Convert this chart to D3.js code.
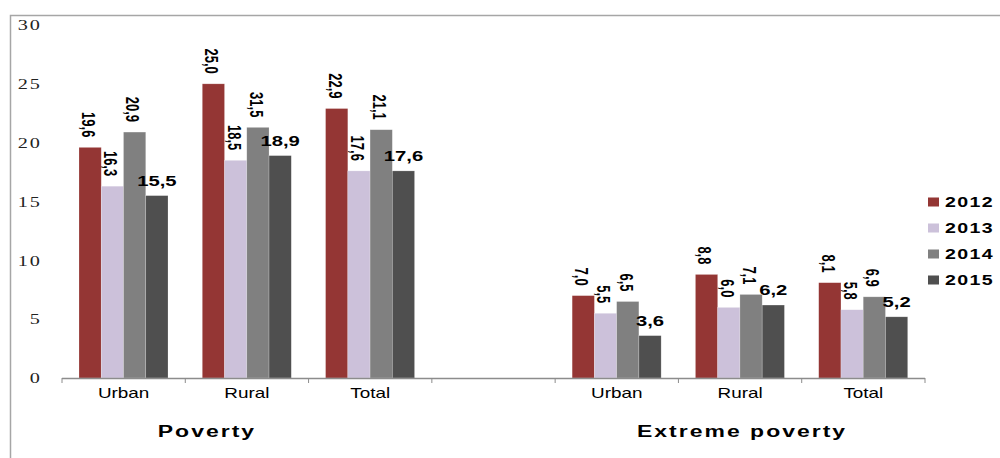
<!DOCTYPE html>
<html><head><meta charset="utf-8">
<script src="https://cdn.jsdelivr.net/npm/d3@7"></script>
<style>html,body{margin:0;padding:0;background:#fff;}svg{display:block;}</style>
</head><body>
<svg id="chart" width="1000" height="458"></svg>
<script>
// ---- data ----
const slots = ["Urban|P","Rural|P","Total|P","gap","Urban|E","Rural|E","Total|E"];
const slotLabels = ["Urban","Rural","Total","","Urban","Rural","Total"];
const years = ["2012","2013","2014","2015"];
const colors = ["#943634","#CCC1DA","#808080","#4F4F4F"];
const v2012 = [19.6, 25.0, 22.9, null, 7.0, 8.8, 8.1];
const v2013 = [16.3, 18.5, 17.6, null, 5.5, 6.0, 5.8];
const v2014 = [20.9, 21.3, 21.1, null, 6.5, 7.1, 6.9];
const v2015 = [15.5, 18.9, 17.6, null, 3.6, 6.2, 5.2];
const l2012 = ["19,6","25,0","22,9","","7,0","8,8","8,1"];
const l2013 = ["16,3","18,5","17,6","","5,5","6,0","5,8"];
const l2014 = ["20,9","31,5","21,1","","6,5","7,1","6,9"];
const l2015 = ["15,5","18,9","17,6","","3,6","6,2","5,2"];
const yTicks = [0,5,10,15,20,25,30];
const groupTitles = ["Poverty","Extreme poverty"];

const values = [v2012,v2013,v2014,v2015];
const labels = [l2012,l2013,l2014,l2015];
const SX = 1.35; // horizontal stretch of the reference image

const svg = d3.select("#chart");

// frame
svg.append("path").attr("d","M10.5,458 L10.5,15.5 L1000,15.5")
  .attr("fill","none").attr("stroke","#A6A6A6").attr("stroke-width",1.5);

const x0 = d3.scaleBand().domain(slots).range([62,925]).padding(0);
const x1 = d3.scaleBand().domain(years).range([17,106]).padding(0);
const y = d3.scaleLinear().domain([0,30]).range([378,25]);

// y tick labels
svg.append("g").selectAll("text").data(yTicks).join("text")
  .attr("transform", d => `translate(42,${y(d)}) scale(${SX},1)`)
  .attr("text-anchor","end").attr("dy","0.35em")
  .attr("font-family","Liberation Serif, serif").attr("font-size",15)
  .attr("letter-spacing",1.5).attr("fill","#222")
  .text(d => d);

// bars
const rows = [];
slots.forEach((s,i) => years.forEach((yr,j) => {
  if (values[j][i] != null) rows.push({slot:s, i, year:yr, j, v:values[j][i], lab:labels[j][i]});
}));

svg.append("g").selectAll("rect").data(rows).join("rect")
  .attr("x", d => x0(d.slot) + x1(d.year))
  .attr("width", x1.bandwidth())
  .attr("y", d => y(d.v))
  .attr("height", d => y(0) - y(d.v))
  .attr("fill", d => colors[d.j])
  .attr("stroke","#fff").attr("stroke-opacity",0.35).attr("stroke-width",0.6);

// value labels
const lg = svg.append("g").attr("font-family","Liberation Sans, Arial, sans-serif")
  .attr("font-weight","bold").attr("fill","#000");
rows.forEach(d => {
  const cx = x0(d.slot) + x1(d.year) + x1.bandwidth()/2;
  const top = y(d.v);
  if (d.year === "2015") {
    lg.append("text")
      .attr("transform", `translate(${cx},${top-10}) scale(${SX},1)`)
      .attr("text-anchor","middle").attr("font-size",15)
      .text(d.lab);
  } else {
    lg.append("text")
      .attr("transform", `translate(${cx-2},${top-10}) scale(${SX},1) rotate(90)`)
      .attr("text-anchor","end").attr("dy","0.35em").attr("font-size",13)
      .text(d.lab);
  }
});

// x axis
const ax = svg.append("g").attr("stroke","#8C8C8C");
ax.append("line").attr("x1",x0.range()[0]).attr("x2",x0.range()[1])
  .attr("y1",y(0)+0.5).attr("y2",y(0)+0.5).attr("stroke-width",1.5);
const tickXs = slots.map(s => x0(s)).concat([x0.range()[1]]);
ax.selectAll("line.t").data(tickXs).join("line").attr("class","t")
  .attr("x1",d=>d).attr("x2",d=>d).attr("y1",y(0)).attr("y2",y(0)+5).attr("stroke-width",1);

// category labels
svg.append("g").selectAll("text").data(slots).join("text")
  .attr("transform", (d,i) => `translate(${x0(d)+x0.bandwidth()/2},398) scale(${SX},1)`)
  .attr("text-anchor","middle")
  .attr("font-family","Liberation Sans, Arial, sans-serif").attr("font-size",14).attr("fill","#000")
  .text((d,i) => slotLabels[i]);

// group titles
const titleX = [x0("Rural|P") + x0.bandwidth()/2 - 40, x0("Rural|E") + x0.bandwidth()/2 + 2];
svg.append("g").selectAll("text").data(groupTitles).join("text")
  .attr("transform", (d,i) => `translate(${titleX[i]},437) scale(${SX},1)`)
  .attr("text-anchor","middle")
  .attr("font-family","Liberation Sans, Arial, sans-serif").attr("font-weight","bold")
  .attr("font-size",17).attr("letter-spacing",1.5).attr("fill","#000")
  .text(d => d);

// legend
const leg = svg.append("g").selectAll("g").data(years).join("g")
  .attr("transform",(d,i)=>`translate(928,${202 + i*26})`);
leg.append("rect").attr("x",0).attr("y",-4.5).attr("width",11).attr("height",9)
  .attr("fill",(d,i)=>colors[i]);
leg.append("text")
  .attr("transform",`translate(17,0) scale(${SX},1)`)
  .attr("dy","0.36em")
  .attr("font-family","Liberation Sans, Arial, sans-serif").attr("font-weight","bold")
  .attr("font-size",14.5).attr("letter-spacing",1).attr("fill","#000")
  .text(d=>d);
</script>
</body></html>
